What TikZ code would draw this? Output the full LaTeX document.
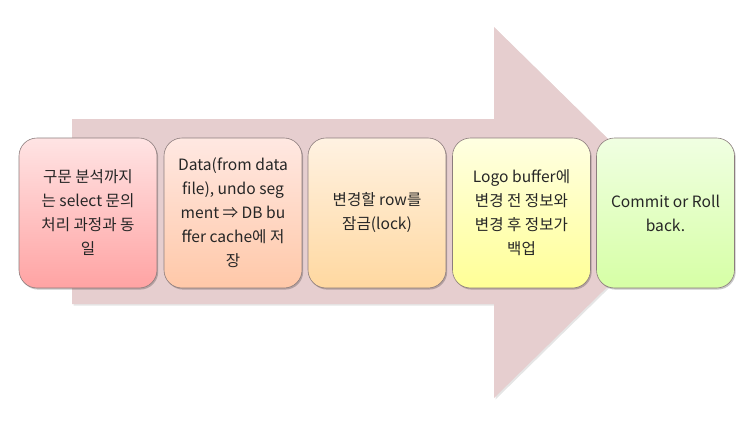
\documentclass[tikz,border=0pt]{standalone}
\usepackage{fontspec}
\setmainfont{Noto Sans CJK KR}
\usetikzlibrary{shadows}
\definecolor{arrowfill}{RGB}{230,206,207}
\definecolor{boxline}{RGB}{140,125,125}
\definecolor{aTop}{RGB}{255,228,228}\definecolor{aBot}{RGB}{255,163,163}
\definecolor{bTop}{RGB}{255,232,226}\definecolor{bBot}{RGB}{255,200,168}
\definecolor{cTop}{RGB}{255,242,226}\definecolor{cBot}{RGB}{255,216,160}
\definecolor{dTop}{RGB}{255,255,226}\definecolor{dBot}{RGB}{255,255,150}
\definecolor{eTop}{RGB}{240,255,226}\definecolor{eBot}{RGB}{214,255,165}
\tikzset{
  stagebox/.style={rectangle, rounded corners=18pt, draw=boxline, line width=0.6pt,
    minimum width=138pt, minimum height=150pt, align=center, inner sep=0pt,
    font=\fontsize{15.6}{24}\selectfont, text=black!85,
    drop shadow={shadow xshift=1.2pt, shadow yshift=-1.6pt, opacity=0.22, fill=black}},
}
\begin{document}
\begin{tikzpicture}[x=1pt,y=-1pt]
  \useasboundingbox (0,0) rectangle (750,423);
  % big background arrow with a faint shadow
  \fill[black, opacity=0.1] (73.5,120.5) -- (495.5,120.5) -- (495.5,28.5) -- (684.5,214) -- (495.5,399.5) -- (495.5,305.5) -- (73.5,305.5) -- cycle;
  \fill[arrowfill] (72,119) -- (494,119) -- (494,27) -- (683,212.5) -- (494,398) -- (494,304) -- (72,304) -- cycle;
  % stages
  \node[stagebox, top color=aTop, bottom color=aBot] (n1) at (88,213) {구문 분석까지\\는 select 문의\\처리 과정과 동\\일};
  \node[stagebox, top color=bTop, bottom color=bBot] (n2) at (233,213) {Data(from data\\file), undo seg\\ment ⇒ DB bu\\ffer cache에 저\\장};
  \node[stagebox, top color=cTop, bottom color=cBot] (n3) at (377,213) {변경할 row를\\잠금(lock)};
  \node[stagebox, top color=dTop, bottom color=dBot] (n4) at (521.5,213) {Logo buffer에\\변경 전 정보와\\변경 후 정보가\\백업};
  \node[stagebox, top color=eTop, bottom color=eBot] (n5) at (665.5,213) {Commit or Roll\\back.};
\end{tikzpicture}
\end{document}
